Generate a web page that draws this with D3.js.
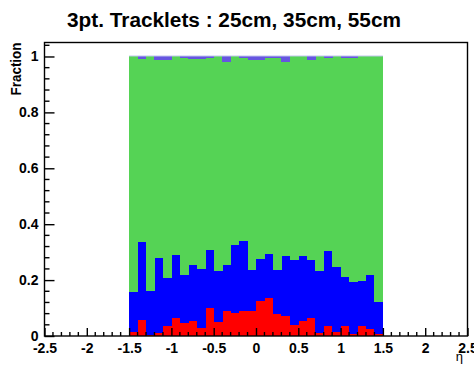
<!DOCTYPE html>
<html>
<head>
<meta charset="utf-8">
<script src="https://cdn.jsdelivr.net/npm/d3@7"></script>
<style>
  html, body { margin: 0; padding: 0; background: #fff; }
  svg { display: block; }
  text { font-family: "Liberation Sans", Arial, Helvetica, sans-serif; }
</style>
</head>
<body>
<svg id="chart" width="474" height="365"></svg>
<script>
// ---- data (eta bins of width 0.1 from -1.5 to 1.5) ----
const binLow = [-1.5,-1.4,-1.3,-1.2,-1.1,-1.0,-0.9,-0.8,-0.7,-0.6,-0.5,-0.4,-0.3,-0.2,-0.1,
                0.0,0.1,0.2,0.3,0.4,0.5,0.6,0.7,0.8,0.9,1.0,1.1,1.2,1.3,1.4];
const binWidth = 0.1;
const redFrac = [0.017,0.060,0.003,0.013,0.037,0.065,0.046,0.055,0.031,0.102,
                 0.052,0.089,0.083,0.089,0.089,0.126,0.137,0.079,0.073,0.039,
                 0.056,0.065,0.011,0.038,0.015,0.038,0.007,0.036,0.027,0.007];
const blueFrac = [0.143,0.277,0.159,0.266,0.173,0.227,0.173,0.200,0.211,0.206,
                  0.181,0.166,0.243,0.251,0.149,0.151,0.158,0.157,0.214,0.234,
                  0.233,0.208,0.222,0.266,0.234,0.174,0.189,0.163,0.194,0.116];
const greenFrac = [0.840,0.655,0.838,0.710,0.779,0.708,0.778,0.738,0.750,0.687,
                   0.767,0.725,0.674,0.654,0.750,0.711,0.701,0.761,0.695,0.727,
                   0.711,0.717,0.767,0.691,0.751,0.784,0.800,0.801,0.779,0.877];
const purpleFrac = [0.000,0.008,0.000,0.011,0.011,0.000,0.003,0.007,0.008,0.005,
                    0.000,0.020,0.000,0.006,0.012,0.012,0.004,0.003,0.018,0.000,
                    0.000,0.010,0.000,0.005,0.000,0.004,0.004,0.000,0.000,0.000];
const seriesKeys = ["red","blue","green","purple"];
const seriesColors = {red:"#ff0000", blue:"#0000ff", green:"#55d355", purple:"#6655e0"};
const xTickValues = [-2.5,-2,-1.5,-1,-0.5,0,0.5,1,1.5,2,2.5];
const yTickValues = [0,0.2,0.4,0.6,0.8,1];
const titleText = "3pt. Tracklets : 25cm, 35cm, 55cm";
const yTitle = "Fraction";
const xTitle = "η";

// ---- layout ----
const svg = d3.select("#chart");
const L = 44.5, R = 467.5, T = 42.5, B = 336;
const x = d3.scaleLinear().domain([-2.5, 2.5]).range([L, R]);
const y = d3.scaleLinear().domain([0, 1.05]).range([B, T]);

const rows = binLow.map((lo, i) => ({
  lo, red: redFrac[i], blue: blueFrac[i], green: greenFrac[i], purple: purpleFrac[i]
}));
const stacked = d3.stack().keys(seriesKeys)(rows);

const gBars = svg.append("g");
stacked.forEach(layer => {
  gBars.append("g")
    .attr("fill", seriesColors[layer.key])
    .selectAll("rect")
    .data(layer.filter(d => d[1] - d[0] > 0))
    .join("rect")
    .attr("x", d => x(d.data.lo))
    .attr("width", d => x(d.data.lo + binWidth) - x(d.data.lo) + 0.4)
    .attr("y", d => y(d[1]))
    .attr("height", d => Math.max(0, y(d[0]) - y(d[1])) + 0.3)
    .attr("shape-rendering", "crispEdges");
});
// thin light top edge of the stack
svg.append("line")
  .attr("x1", x(binLow[0])).attr("x2", x(binLow[binLow.length - 1] + binWidth))
  .attr("y1", y(1) - 0.5).attr("y2", y(1) - 0.5)
  .attr("stroke", "#c4c8ee").attr("stroke-width", 1);

// ---- frame ----
svg.append("rect")
  .attr("x", L).attr("y", T).attr("width", R - L).attr("height", B - T)
  .attr("fill", "none").attr("stroke", "#000").attr("stroke-width", 1.4);

// ---- axes ----
const xAxis = d3.axisBottom(x).tickValues(xTickValues)
  .tickFormat(d3.format("")).tickSizeInner(-8).tickSizeOuter(0).tickPadding(7);
const gx = svg.append("g").attr("transform", `translate(0,${B})`).call(xAxis);
gx.select(".domain").remove();
gx.selectAll("line").attr("stroke", "#000").attr("stroke-width", 1.4);
gx.selectAll("text").attr("font-size", 14).attr("font-weight", "bold").attr("fill", "#000")
  .text(d => d3.format("")(d).replace("−", "-"));

const xMinor = d3.range(-25, 26).map(v => v / 10).filter(v => Math.abs(v * 2 - Math.round(v * 2)) > 1e-6);
svg.append("g").selectAll("line").data(xMinor).join("line")
  .attr("x1", d => x(d)).attr("x2", d => x(d))
  .attr("y1", B).attr("y2", B - 4)
  .attr("stroke", "#000").attr("stroke-width", 1.4);

const yAxis = d3.axisLeft(y).tickValues(yTickValues)
  .tickFormat(d3.format("")).tickSizeInner(-10).tickSizeOuter(0).tickPadding(6);
const gy = svg.append("g").attr("transform", `translate(${L},0)`).call(yAxis);
gy.select(".domain").remove();
gy.selectAll("line").attr("stroke", "#000").attr("stroke-width", 1.4);
gy.selectAll("text").attr("font-size", 14).attr("font-weight", "bold").attr("fill", "#000");

const yMinor = d3.range(0, 27).map(v => v * 0.04).filter(v => v <= 1.05 && Math.abs(v * 5 - Math.round(v * 5)) > 1e-6);
svg.append("g").selectAll("line").data(yMinor).join("line")
  .attr("x1", L).attr("x2", L + 5)
  .attr("y1", d => y(d)).attr("y2", d => y(d))
  .attr("stroke", "#000").attr("stroke-width", 1.4);

// ---- titles ----
svg.append("text").attr("x", 67).attr("y", 27)
  .attr("font-size", 19.5).attr("font-weight", "bold")
  .attr("textLength", 334).attr("lengthAdjust", "spacingAndGlyphs").text(titleText);
svg.append("text").attr("transform", `translate(20.5,${T}) rotate(-90)`)
  .attr("text-anchor", "end").attr("font-size", 14).attr("font-weight", "bold")
  .attr("textLength", 53).attr("lengthAdjust", "spacingAndGlyphs").text(yTitle);
svg.append("text").attr("x", 463).attr("y", 361).attr("text-anchor", "end")
  .attr("font-size", 13).text(xTitle);
</script>
</body>
</html>
